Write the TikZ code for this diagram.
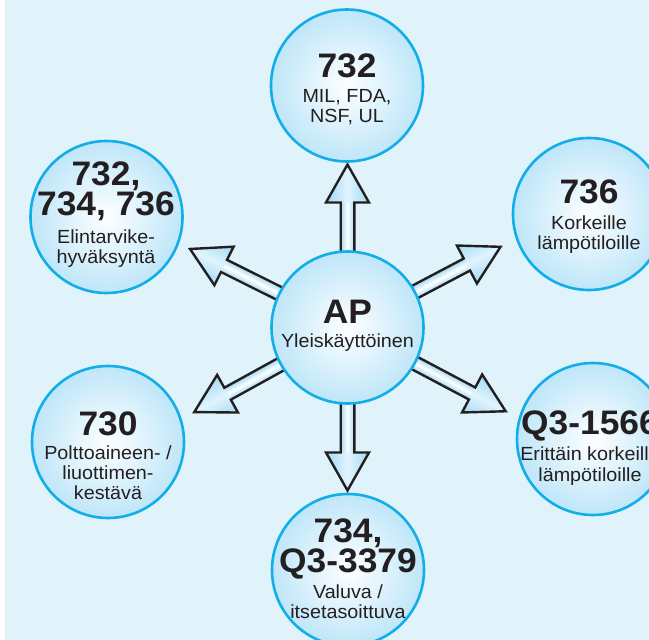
\documentclass[tikz,border=0pt]{standalone}
\usepackage{fontspec}
\setmainfont{Liberation Sans}
\newfontfamily\numfont{Liberation Sans}[FakeStretch=1.04]
\newfontfamily\subfont{Liberation Sans}[FakeStretch=1.04]
\definecolor{bgblue}{HTML}{E0F3FB}
\definecolor{rim}{HTML}{12AEEA}
\definecolor{ballblue}{HTML}{93D4F3}
\definecolor{ballmid}{HTML}{BCE5F8}
\definecolor{ballcore}{HTML}{F6FCFF}
\definecolor{ink}{HTML}{231F20}
\definecolor{arrowblue}{HTML}{A3DAF4}
\definecolor{arrowlight}{HTML}{E0F4FD}
\pgfdeclareradialshading{ballshade}{\pgfpoint{0bp}{0bp}}{color(0bp)=(ballcore); color(3bp)=(ballcore); color(26bp)=(ballmid); color(50bp)=(ballblue); color(100bp)=(ballblue)}
\pgfdeclarelayer{bg}
\pgfsetlayers{bg,main}
\newcommand\blockarrow[3]{%
  \begin{scope}[transform canvas={shift={(#1.center)},rotate=#2}]
    \shade[top color=arrowblue,bottom color=arrowblue,middle color=white]
      (40pt,-6.8pt) rectangle ({#3pt-38pt},6.8pt);
    \shade[top color=arrowblue,bottom color=arrowblue,middle color=arrowlight]
      ({#3pt-38pt},-21.5pt) -- (#3pt,0pt) -- ({#3pt-38pt},21.5pt) -- cycle;
    \draw[arrowline]
      (40pt,-6.8pt) -- ({#3pt-38pt},-6.8pt) -- ({#3pt-38pt},-21.5pt) -- (#3pt,0pt)
      -- ({#3pt-38pt},21.5pt) -- ({#3pt-38pt},6.8pt) -- (40pt,6.8pt);
  \end{scope}}
\begin{document}
\begin{tikzpicture}[x=1pt,y=-1pt,
  ball/.style={circle, draw=rim, line width=2.6pt, shading=ballshade, minimum size=152pt, inner sep=0pt},
  num/.style={font=\numfont\bfseries\fontsize{34}{34}\selectfont, text=ink, anchor=base, inner sep=0pt},
  sub/.style={font=\subfont\fontsize{19}{19}\selectfont, text=ink, anchor=base, inner sep=0pt},
  arrowline/.style={draw=ink, line width=2.4pt, line join=miter, miter limit=10}]
\useasboundingbox (0,0) rectangle (649,640);
\begin{pgfonlayer}{bg}
  \fill[bgblue] (5,0) rectangle (649,640);
\end{pgfonlayer}
% circles
\node[ball] (ap) at (347.5,327.5) {};
\node[ball] (n)  at (347,85.5) {};
\node[ball] (nw) at (106.5,217) {};
\node[ball] (ne) at (589,214) {};
\node[ball] (sw) at (108,442) {};
\node[ball] (se) at (593,439) {};
\node[ball] (s)  at (348,570) {};
% arrows (behind the circles)
\begin{pgfonlayer}{bg}
  \blockarrow{ap}{90}{163}
  \blockarrow{ap}{-90}{163}
  \blockarrow{ap}{153.5}{176}
  \blockarrow{ap}{27.8}{173}
  \blockarrow{ap}{208.9}{175}
  \blockarrow{ap}{-27.9}{179}
\end{pgfonlayer}
% texts
\node[num] (apa) at (347.5,323) {AP};
\node[sub] (apb) at (347.5,347) {Yleiskäyttöinen};

\node[num] (na) at (347,77) {732};
\node[sub] (nb) at (347,102) {MIL, FDA,};
\node[sub] (nc) at (347,122) {NSF, UL};

\node[num] (nwa) at (106,185) {732,};
\node[num] (nwb) at (106,215) {734, 736};
\node[sub] (nwc) at (106,243) {Elintarvike-};
\node[sub] (nwd) at (106,263) {hyväksyntä};

\node[num] (nea) at (589,203) {736};
\node[sub] (neb) at (589,229) {Korkeille};
\node[sub] (nec) at (589,249) {lämpötiloille};

\node[num] (swa) at (108,435) {730};
\node[sub] (swb) at (108,459) {Polttoaineen- /};
\node[sub] (swc) at (108,479) {liuottimen-};
\node[sub] (swd) at (108,499) {kestävä};

\node[num] (sea) at (590,434) {Q3-1566};
\node[sub] (seb) at (590,460) {Erittäin korkeille};
\node[sub] (sec) at (590,481) {lämpötiloille};

\node[num] (sa) at (348,542) {734,};
\node[num] (sb) at (348,572) {Q3-3379};
\node[sub] (sc) at (348,598) {Valuva /};
\node[sub] (sd) at (348,618) {itsetasoittuva};
\end{tikzpicture}
\end{document}
